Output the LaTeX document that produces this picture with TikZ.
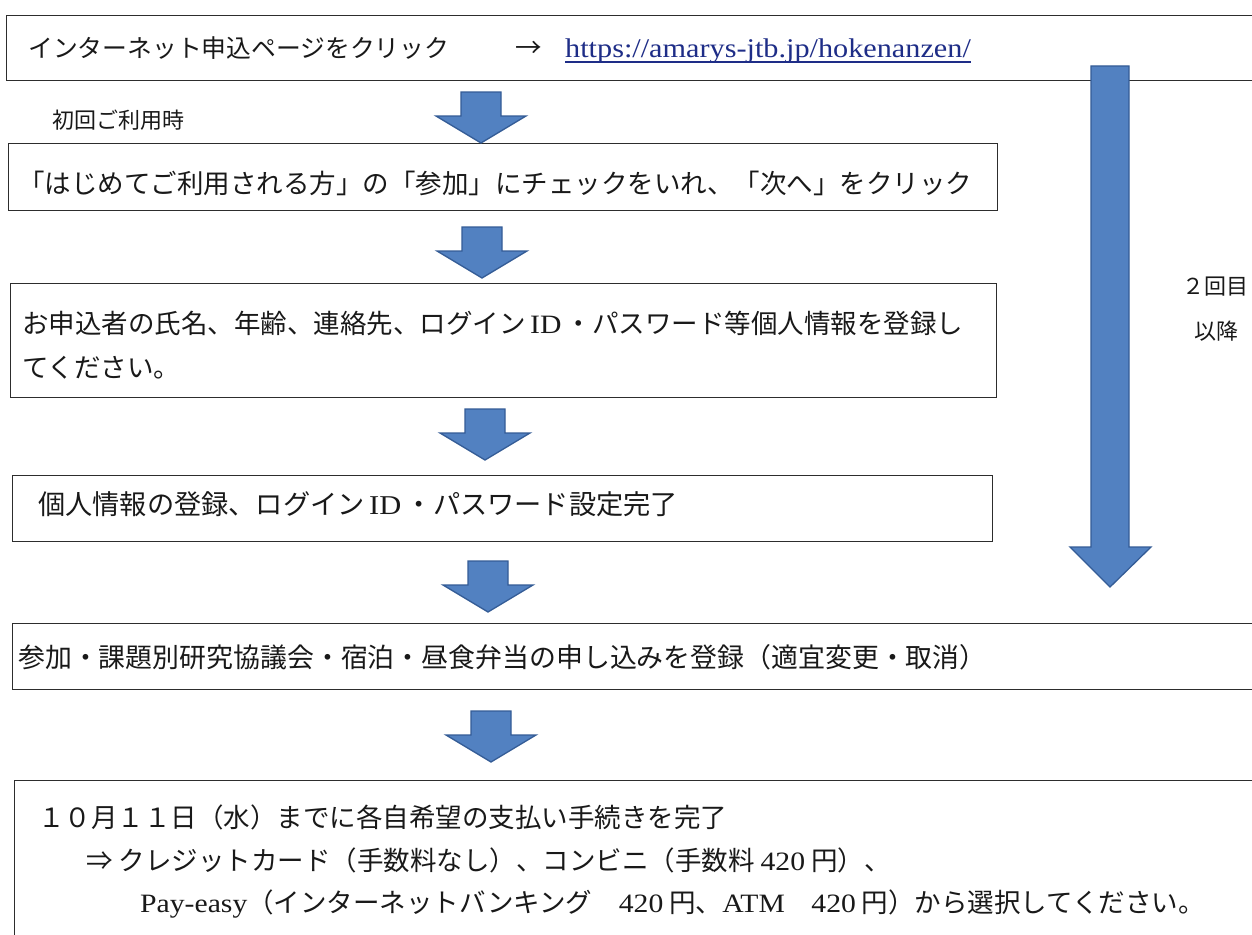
\documentclass[tikz,border=0pt]{standalone}
\usepackage{fontspec}
\newfontfamily\jp{Noto Sans CJK JP}
\newfontfamily\lat[FakeStretch=1.12]{Liberation Serif}
\definecolor{arrowfill}{RGB}{82,129,193}
\definecolor{arrowline}{RGB}{52,92,150}
\definecolor{boxline}{RGB}{45,45,45}
\definecolor{urlblue}{RGB}{30,45,135}
\tikzset{
  box/.style={draw=boxline, line width=1.4pt, rectangle, inner sep=0pt, anchor=north west},
  txt/.style={anchor=base west, inner sep=0pt, font=\jp\fontsize{26.5}{32}\selectfont, text=black!90},
  smalltxt/.style={anchor=base west, inner sep=0pt, font=\jp\fontsize{22}{26}\selectfont, text=black!90},
  blockarrow/.style={fill=arrowfill, draw=arrowline, line width=1.3pt, line join=miter},
  pics/downarrow/.style={code={
    \draw[blockarrow] (-20,0) -- (20,0) -- (20,24) -- (45,24) -- (0,51) -- (-45,24) -- (-20,24) -- cycle;}}
}
\begin{document}
\begin{tikzpicture}[x=1pt,y=-1pt]
\useasboundingbox (0,0) rectangle (1252,934);
\fill[white] (0,0) rectangle (1252,934);
\clip (0,0) rectangle (1252,934);

% boxes
\node[box, minimum width=1262pt, minimum height=65pt] (b1) at (6,15) {};
\node[box, minimum width=989pt, minimum height=67pt] (b2) at (8,143) {};
\node[box, minimum width=986pt, minimum height=114pt] (b3) at (10,283) {};
\node[box, minimum width=980pt, minimum height=66pt] (b4) at (12,475) {};
\node[box, minimum width=1258pt, minimum height=66pt] (b5) at (12,623) {};
\node[box, minimum width=1256pt, minimum height=190pt] (b6) at (14,780) {};

% box 1 text
\node[txt, font=\jp\fontsize{24.8}{30}\selectfont] (t1a) at (28,57) {インターネット申込ページをクリック};
\node[txt] (t1b) at (515,57) {→};
\node[anchor=base west, inner sep=0pt, font=\lat\fontsize{27}{32}\selectfont, text=urlblue] (url) at (565,57) {https://amarys-jtb.jp/hokenanzen/};
\draw[urlblue, line width=1.3pt] ([yshift=-5pt]url.base west) -- ([yshift=-5pt]url.base east);

% label
\node[smalltxt] (first) at (52,128) {初回ご利用時};

% box texts
\node[txt] (t2) at (18,193) {「はじめてご利用される方」の「参加」にチェックをいれ、「次へ」をクリック};
\node[txt] (t3a) at (22,333) {お申込者の氏名、年齢、連絡先、ログイン\,{\lat ID}\,・パスワード等個人情報を登録し};
\node[txt] (t3b) at (22,377) {てください。};
\node[txt, font=\jp\fontsize{27.2}{32}\selectfont] (t4) at (38,514) {個人情報の登録、ログイン\,{\lat ID}\,・パスワード設定完了};
\node[txt, font=\jp\fontsize{26.9}{32}\selectfont] (t5) at (18,667) {参加・課題別研究協議会・宿泊・昼食弁当の申し込みを登録（適宜変更・取消）};
\node[txt] (t6a) at (38,827) {１０月１１日（水）までに各自希望の支払い手続きを完了};
\node[txt] (t6b) at (86,870) {⇒ クレジットカード（手数料なし）、コンビニ（手数料 {\lat 420} 円）、};
\node[txt] (t6c) at (140,912) {{\lat Pay-easy}（インターネットバンキング　{\lat 420} 円、{\lat ATM}　{\lat 420} 円）から選択してください。};

% small arrows
\pic at (481,92) {downarrow};
\pic at (482,227) {downarrow};
\pic at (485,409) {downarrow};
\pic at (488,561) {downarrow};
\pic at (491,711) {downarrow};

% big arrow
\draw[blockarrow] (1091,66) -- (1129,66) -- (1129,547) -- (1151,547) -- (1110,587) -- (1070,547) -- (1091,547) -- cycle;
\node[smalltxt] (r1) at (1182,294) {２回目};
\node[smalltxt] (r2) at (1194,339) {以降};
\end{tikzpicture}
\end{document}
